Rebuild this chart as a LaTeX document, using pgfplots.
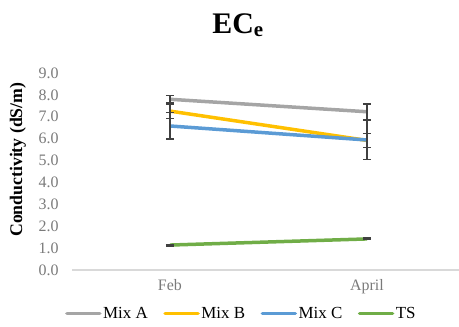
\documentclass[border=0pt]{standalone}
\usepackage{fontspec}
\setmainfont{Liberation Serif}
\usepackage{pgfplots}
\pgfplotsset{compat=1.18}
\definecolor{mixa}{HTML}{A5A5A5}
\definecolor{mixb}{HTML}{FFC000}
\definecolor{mixc}{HTML}{5B9BD5}
\definecolor{ts}{HTML}{70AD47}
\definecolor{ticktxt}{HTML}{7A7A7A}
\definecolor{axln}{HTML}{D9D9D9}
\definecolor{errc}{HTML}{404040}
\begin{document}
\begin{tikzpicture}[x=1bp,y=1bp]
\useasboundingbox (0,0) rectangle (459,326);
\node[font=\fontsize{30}{32}\selectfont\bfseries, anchor=base] at (238,293) {EC\textsubscript{e}};
\begin{axis}[
  at={(72bp,56bp)}, anchor=south west,
  width=387bp, height=197bp, scale only axis,
  xmin=-0.497, xmax=1.467,
  ymin=0, ymax=9,
  xtick={0,1}, xticklabels={Feb,April},
  ytick={0,1,...,9},
  yticklabel style={/pgf/number format/fixed, /pgf/number format/fixed zerofill, /pgf/number format/precision=1, xshift=-10bp},
  /pgf/number format/assume math mode=true,
  tick style={draw=none},
  axis x line*=bottom, axis y line*=left,
  x axis line style={draw=axln, line width=1.2bp, -},
  y axis line style={draw=none},
  ticklabel style={font=\fontsize{16}{18}\selectfont, text=ticktxt},
  xticklabel style={yshift=-6bp},
  ylabel={Conductivity (dS/m)},
  ylabel style={font=\fontsize{17.8}{19}\selectfont\bfseries, at={(-54bp,0.56)}, anchor=center, rotate=0},
  every axis plot/.append style={line width=3.5bp},
  legend columns=4,
  legend style={at={(0.437,-0.22)}, anchor=center, draw=none, fill=none,
    font=\fontsize{17}{19}\selectfont, inner sep=0pt,
    /tikz/every even column/.append style={column sep=14bp},
    nodes={inner sep=1.5bp}},
  legend image code/.code={\draw[#1, line cap=round, line width=3.5bp] (0,0) -- (33bp,0);},
  error bars/y dir=both, error bars/y explicit,
  error bars/error bar style={draw=errc, line width=1.3bp},
  error bars/error mark options={draw=errc, line width=1.3bp, mark size=4bp, rotate=90},
  clip=false,
]
\addplot[mixa] coordinates {(0,7.80) +- (0,0.17) (1,7.23) +- (0,0.35)};
\addlegendentry{Mix A}
\addplot[mixb] coordinates {(0,7.26) +- (0,0.33) (1,5.92) +- (0,0.33)};
\addlegendentry{Mix B}
\addplot[mixc] coordinates {(0,6.58) +- (0,0.60) (1,5.94) +- (0,0.90)};
\addlegendentry{Mix C}
\addplot[ts] coordinates {(0,1.14) +- (0,0.04) (1,1.42) +- (0,0.04)};
\addlegendentry{TS}
\end{axis}
\end{tikzpicture}
\end{document}
